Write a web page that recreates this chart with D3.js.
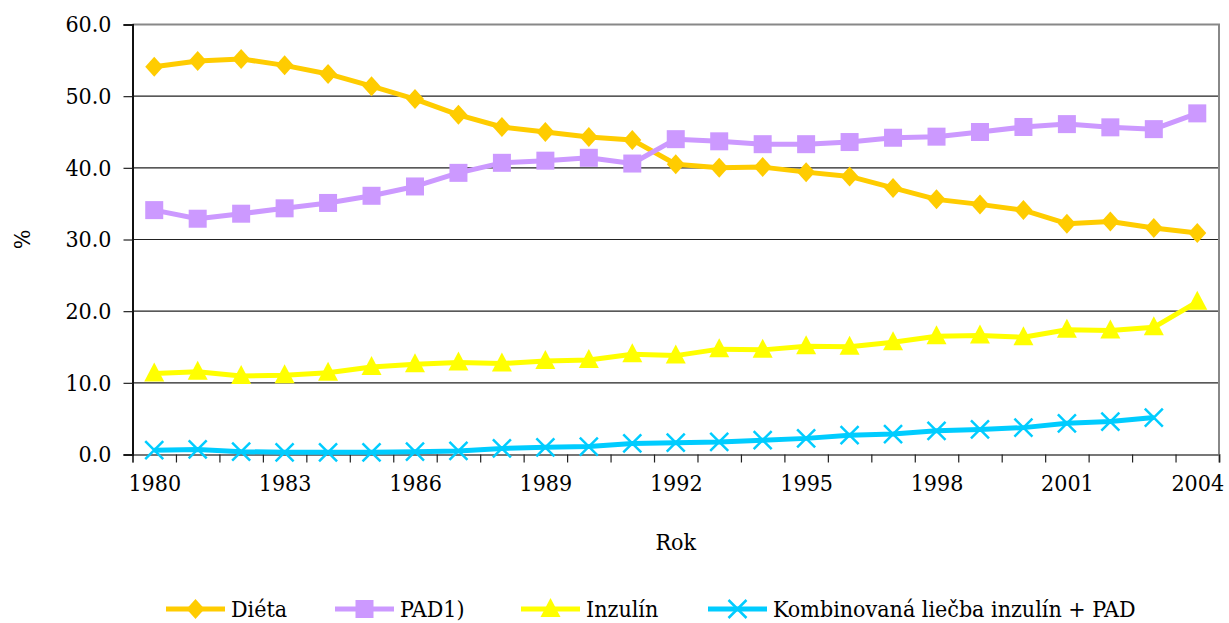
<!DOCTYPE html>
<html>
<head>
<meta charset="utf-8">
<script src="https://cdn.jsdelivr.net/npm/d3@7"></script>
<style>
  body { margin: 0; background: #fff; }
  svg text { font-family: "DejaVu Serif Condensed", "DejaVu Serif", serif !important; fill: #000; }
</style>
</head>
<body>
<svg id="chart" width="1229" height="623"></svg>
<script>
// data
const years = d3.range(1980, 2005)
const yearLabels = [1980, 1983, 1986, 1989, 1992, 1995, 1998, 2001, 2004]
const yTicks = [0, 10, 20, 30, 40, 50, 60]

const dieta = [54.1, 54.9, 55.2, 54.3, 53.1, 51.4, 49.6, 47.4, 45.7, 45.0, 44.3, 43.9,
  40.5, 40.0, 40.1, 39.4, 38.8, 37.2, 35.6, 34.9, 34.1, 32.2, 32.5, 31.6, 30.9]
const pad = [34.1, 32.9, 33.6, 34.35, 35.1, 36.1, 37.4, 39.3, 40.7, 41.0, 41.4, 40.6,
  44.0, 43.7, 43.3, 43.3, 43.6, 44.2, 44.35, 45.0, 45.7, 46.1, 45.65, 45.4, 47.6]
const inzulin = [11.3, 11.55, 10.95, 11.05, 11.4, 12.2, 12.6, 12.85, 12.7, 13.05, 13.2, 14.0,
  13.8, 14.7, 14.6, 15.1, 15.05, 15.65, 16.5, 16.6, 16.35, 17.4, 17.3, 17.75, 21.3]
const kombinovana = [0.6, 0.7, 0.4, 0.3, 0.3, 0.3, 0.4, 0.5, 0.85, 1.0, 1.1, 1.55,
  1.65, 1.75, 2.0, 2.25, 2.7, 2.85, 3.3, 3.5, 3.75, 4.35, 4.6, 5.15]

const series = [
  { name: 'Diéta', values: dieta, color: '#FFCC00', marker: 'diamond' },
  { name: 'PAD1)', values: pad, color: '#CC99FF', marker: 'square' },
  { name: 'Inzulín', values: inzulin, color: '#FFFF00', marker: 'triangle' },
  { name: 'Kombinovaná liečba inzulín + PAD', values: kombinovana, color: '#00CCFF', marker: 'x' }
]

const svg = d3.select('#chart')
const margin = { top: 24.5, right: 10, bottom: 168.5, left: 132.5 }
const width = 1229, height = 623
const fs = 23

const x = d3.scaleLinear()
  .domain([1979.5, 2004.5])
  .range([margin.left, width - margin.right])

const y = d3.scaleLinear()
  .domain([0, 60])
  .range([height - margin.bottom, margin.top])

// gridlines
svg.append('g')
  .selectAll('line')
  .data(yTicks.filter(d => d > 0 && d < 60))
  .enter()
  .append('line')
  .attr('x1', x.range()[0])
  .attr('x2', x.range()[1])
  .attr('y1', d => y(d))
  .attr('y2', d => y(d))
  .attr('stroke', '#222')
  .attr('stroke-width', 1.2)

// plot frame (top and right)
svg.append('path')
  .attr('d', 'M' + x.range()[0] + ',' + y(60) + 'H' + x.range()[1] + 'V' + y(0))
  .attr('fill', 'none')
  .attr('stroke', '#888')
  .attr('stroke-width', 2)

// x axis: ticks between years, labels every 3 years
const xAxis = svg.append('g')
  .attr('transform', 'translate(0,' + y(0) + ')')
  .call(d3.axisBottom(x)
    .tickValues(d3.range(1979.5, 2005, 1))
    .tickSize(8)
    .tickFormat(''))
xAxis.select('.domain').attr('stroke', '#777').attr('stroke-width', 2)
xAxis.selectAll('.tick line').attr('stroke', '#222').attr('stroke-width', 1.2)

const xLabels = svg.append('g')
  .attr('transform', 'translate(0,' + (y(0) + 6) + ')')
  .call(d3.axisBottom(x)
    .tickValues(yearLabels)
    .tickSize(0)
    .tickFormat(d3.format('d')))
xLabels.select('.domain').remove()
xLabels.selectAll('text')
  .attr('font-size', fs)
  .attr('dy', '1.2em')

// y axis
const yAxis = svg.append('g')
  .attr('transform', 'translate(' + x.range()[0] + ',0)')
  .call(d3.axisLeft(y)
    .tickValues(yTicks)
    .tickSize(9)
    .tickPadding(12)
    .tickFormat(d3.format('.1f')))
yAxis.select('.domain').attr('stroke', '#111').attr('stroke-width', 2)
yAxis.selectAll('.tick line').attr('stroke', '#222').attr('stroke-width', 1.2)
yAxis.selectAll('text')
  .attr('font-size', fs)

// axis titles
svg.append('text')
  .attr('x', (x.range()[0] + x.range()[1]) / 2)
  .attr('y', 550)
  .attr('text-anchor', 'middle')
  .attr('font-size', fs)
  .text('Rok')

svg.append('text')
  .attr('transform', 'translate(30,' + y(30) + ') rotate(-90)')
  .attr('text-anchor', 'middle')
  .attr('font-size', fs)
  .text('%')

// markers
function drawMarker(g, type, color, cx, cy) {
  if (type === 'diamond') {
    g.append('path')
      .attr('d', 'M' + cx + ',' + (cy - 10) + 'L' + (cx + 9) + ',' + cy + 'L' + cx + ',' + (cy + 10) + 'L' + (cx - 9) + ',' + cy + 'Z')
      .attr('fill', color)
  } else if (type === 'square') {
    g.append('rect')
      .attr('x', cx - 9).attr('y', cy - 9)
      .attr('width', 18).attr('height', 18)
      .attr('fill', color)
  } else if (type === 'triangle') {
    g.append('path')
      .attr('d', 'M' + cx + ',' + (cy - 11) + 'L' + (cx + 10) + ',' + (cy + 8) + 'L' + (cx - 10) + ',' + (cy + 8) + 'Z')
      .attr('fill', color)
  } else {
    g.append('path')
      .attr('d', 'M' + (cx - 9) + ',' + (cy - 9) + 'L' + (cx + 9) + ',' + (cy + 9) + 'M' + (cx + 9) + ',' + (cy - 9) + 'L' + (cx - 9) + ',' + (cy + 9))
      .attr('stroke', color)
      .attr('stroke-width', 2.5)
  }
}

const line = d3.line()
  .x(d => x(d.year))
  .y(d => y(d.value))

series.forEach(function(s) {
  const pts = s.values.map((v, i) => ({ year: years[i], value: v }))
  const g = svg.append('g')
  g.append('path')
    .datum(pts)
    .attr('d', line)
    .attr('fill', 'none')
    .attr('stroke', s.color)
    .attr('stroke-width', 5)
    .attr('stroke-linejoin', 'round')
  pts.forEach(p => drawMarker(g, s.marker, s.color, x(p.year), y(p.value)))
})

// legend
const legendX = [166, 335, 521, 708]
const legend = svg.append('g')
series.forEach(function(s, i) {
  const g = legend.append('g').attr('transform', 'translate(' + legendX[i] + ',609)')
  g.append('line')
    .attr('x1', 0).attr('x2', 59)
    .attr('stroke', s.color)
    .attr('stroke-width', 5)
  drawMarker(g, s.marker, s.color, 29.5, 0)
  g.append('text')
    .attr('x', 65)
    .attr('y', 8)
    .attr('font-size', fs)
    .text(s.name)
})
</script>
</body>
</html>
